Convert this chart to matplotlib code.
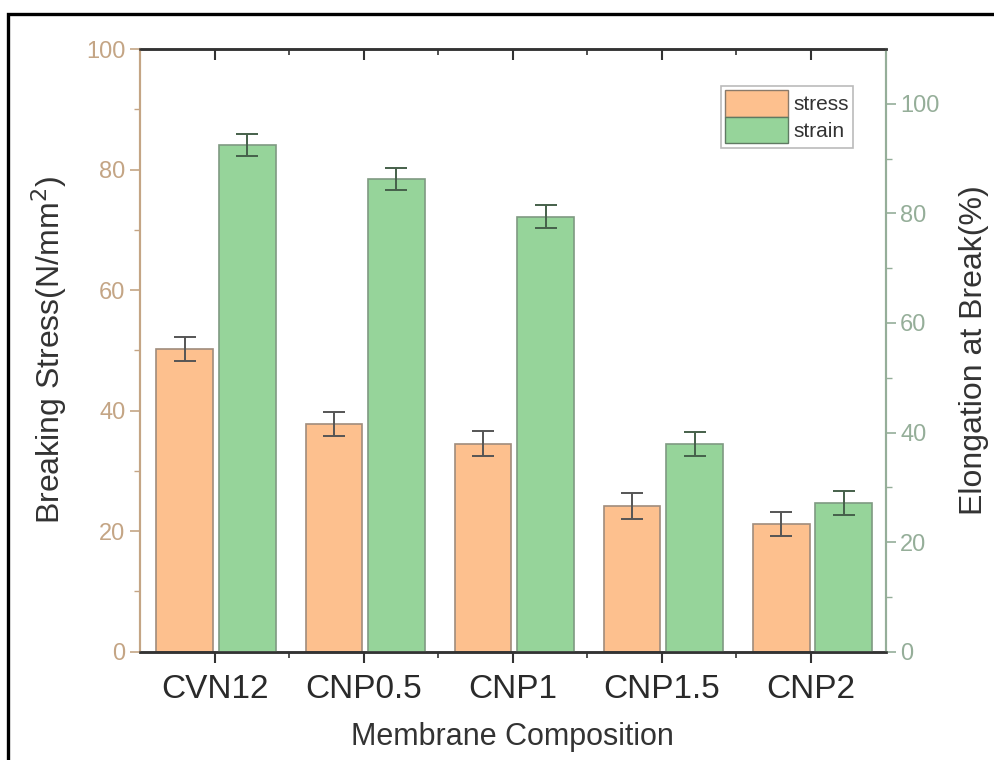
import numpy as np
import matplotlib.pyplot as plt
import matplotlib.lines as mlines
from matplotlib.patches import Rectangle

plt.rcParams['font.family'] = ['Liberation Sans', 'DejaVu Sans']

labels = ['CVN12', 'CNP0.5', 'CNP1', 'CNP1.5', 'CNP2']
stress = [50.2, 37.8, 34.5, 24.2, 21.2]
stress_err = [2.0, 2.0, 2.1, 2.1, 2.0]
strain = [92.4, 86.3, 79.4, 37.9, 27.2]
strain_err = [2.0, 2.0, 2.1, 2.2, 2.2]

c_stress = '#FDC08E'
c_strain = '#96D49A'
c_left = '#C4A585'
c_right = '#95AE99'

fig = plt.figure(figsize=(9.95, 7.6), dpi=100)
ax = fig.add_axes([0.1407, 0.1425, 0.7493, 0.793])
ax2 = ax.twinx()

x = np.arange(len(labels))
w = 0.38
ax.bar(x - 0.2, stress, w, color=c_stress, edgecolor='#A08C7C', linewidth=1.2, zorder=2)
ax.errorbar(x - 0.2, stress, yerr=stress_err, fmt='none', ecolor='#555555',
            elinewidth=1.4, capsize=8, capthick=1.4, zorder=3)
ax2.bar(x + 0.22, strain, w, color=c_strain, edgecolor='#7F9A82', linewidth=1.2, zorder=2)
ax2.errorbar(x + 0.22, strain, yerr=strain_err, fmt='none', ecolor='#45604A',
             elinewidth=1.4, capsize=8, capthick=1.4, zorder=3)

ax.set_xlim(-0.5, 4.5)
ax.set_ylim(0, 100)
ax2.set_ylim(0, 110)
ax.set_xticks(x)
ax.set_xticklabels(labels, fontsize=24, color='#2a2a2a')
ax.set_xticks(x[:-1] + 0.5, minor=True)
ax.set_yticks([0, 20, 40, 60, 80, 100])
ax.set_yticks([10, 30, 50, 70, 90], minor=True)
ax2.set_yticks([0, 20, 40, 60, 80, 100])
ax2.set_yticks([10, 30, 50, 70, 90], minor=True)

ax.tick_params(axis='x', which='major', direction='out', length=8, width=1.5,
               pad=8, color='#333333', top=True)
ax.tick_params(axis='x', which='minor', direction='out', length=4, width=1.2,
               color='#333333', top=True)
ax.tick_params(axis='y', which='major', direction='out', length=7, width=1.2,
               colors=c_left, labelsize=17)
ax.tick_params(axis='y', which='minor', length=4, width=1.0, color=c_left)
ax2.tick_params(axis='y', which='major', direction='out', length=7, width=1.2,
                colors=c_right, labelsize=17)
ax2.tick_params(axis='y', which='minor', length=4, width=1.0, color=c_right)

# top ticks point into the plot
for t in ax.xaxis.get_major_ticks() + ax.xaxis.get_minor_ticks():
    t.tick2line.set_marker(mlines.TICKDOWN)

for a in (ax, ax2):
    a.spines['top'].set_color('#333333')
    a.spines['bottom'].set_color('#333333')
    a.spines['top'].set_linewidth(1.8)
    a.spines['bottom'].set_linewidth(1.8)
    a.spines['left'].set_color(c_left)
    a.spines['right'].set_color(c_right)
    a.spines['left'].set_linewidth(1.5)
    a.spines['right'].set_linewidth(1.5)

ax.set_xlabel('Membrane Composition', fontsize=22, color='#333333', labelpad=12)
ax.set_ylabel('Breaking Stress(N/mm$^2$)', fontsize=23, color='#333333', labelpad=12)
ax2.set_ylabel('Elongation at Break(%)', fontsize=23, color='#333333', labelpad=14)

h1 = Rectangle((0, 0), 1, 1, facecolor=c_stress, edgecolor='#8a7a6a', linewidth=1)
h2 = Rectangle((0, 0), 1, 1, facecolor=c_strain, edgecolor='#5f7a62', linewidth=1)
leg = ax2.legend([h1, h2], ['stress', 'strain'], loc='upper right',
                 bbox_to_anchor=(0.957, 0.939), fontsize=15, frameon=True,
                 fancybox=False, handlelength=3.0, handleheight=1.6,
                 handletextpad=0.3, labelspacing=0.0, borderpad=0.2,
                 borderaxespad=0.0)
leg.get_frame().set_edgecolor('#aaaaaa')
leg.get_frame().set_linewidth(1.2)
for t in leg.get_texts():
    t.set_color('#333333')

fig.patches.append(Rectangle((8 / 995, -0.1), 1.2, 1.1 - 14 / 760, transform=fig.transFigure,
                             fill=False, edgecolor='black', linewidth=2.4))

plt.savefig('out.png', dpi=100)
